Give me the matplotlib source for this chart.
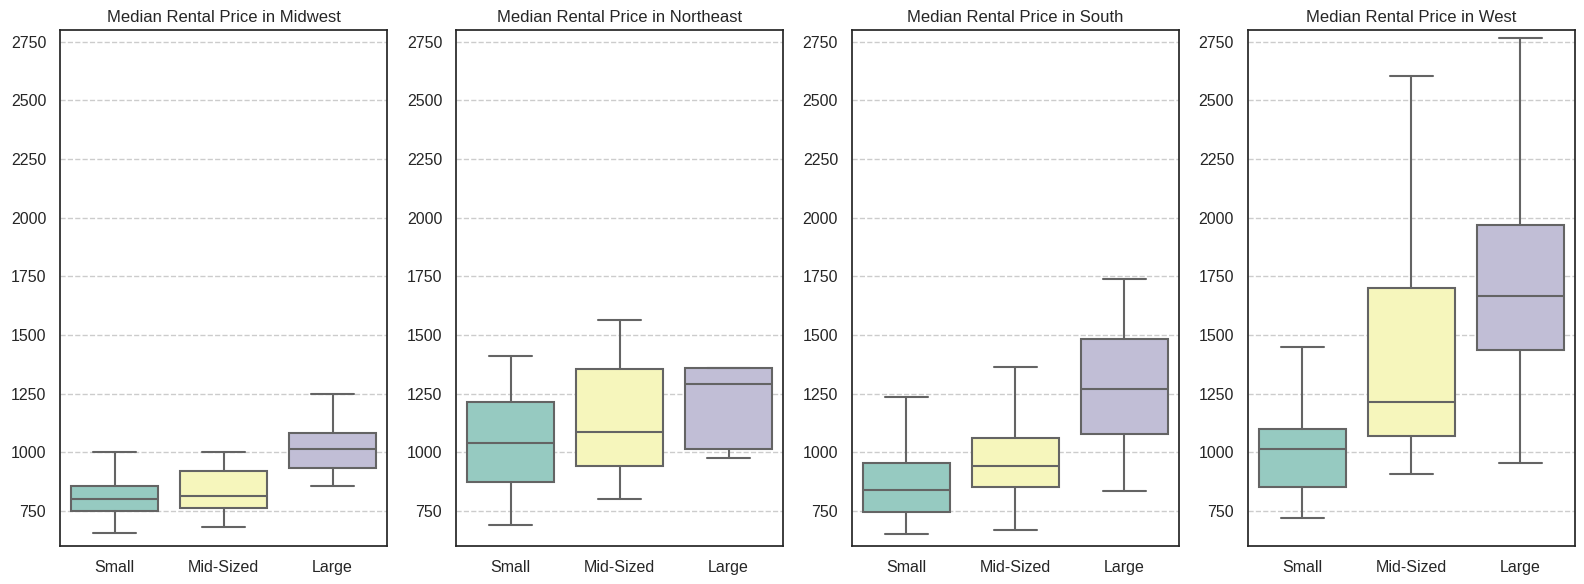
import matplotlib.pyplot as plt
import seaborn as sns

regions = ['Midwest', 'Northeast', 'South', 'West']
sizes = ['Small', 'Mid-Sized', 'Large']

# box stats, one value per size
whislo = {'Midwest': [657, 679, 854], 'Northeast': [689, 800, 974],
          'South': [649, 668, 834], 'West': [718, 909, 952]}
q1 = {'Midwest': [750, 760, 931], 'Northeast': [872, 941, 1012],
      'South': [747, 853, 1077], 'West': [850, 1068, 1434]}
med = {'Midwest': [800, 811, 1013], 'Northeast': [1038, 1085, 1289],
       'South': [838, 943, 1271], 'West': [1015, 1212, 1668]}
q3 = {'Midwest': [854, 919, 1083], 'Northeast': [1215, 1355, 1360],
      'South': [952, 1060, 1482], 'West': [1099, 1698, 1970]}
whishi = {'Midwest': [1000, 1000, 1246], 'Northeast': [1408, 1565, 1360],
          'South': [1237, 1363, 1737], 'West': [1450, 2602, 2765]}

sns.set_style('white')
plt.rcParams['font.family'] = ['Liberation Sans', 'DejaVu Sans']

colors = [sns.desaturate(c, 0.75) for c in sns.color_palette('Set3', 3)]
line_col = '#646464'

fig, axes = plt.subplots(1, 4, figsize=(15.84, 5.84), dpi=100)
fig.subplots_adjust(left=0.0379, right=0.9943, top=0.9486, bottom=0.0651, wspace=0.211)

for ax, region in zip(axes, regions):
    stats = []
    for i, s in enumerate(sizes):
        stats.append({'label': s, 'whislo': whislo[region][i], 'q1': q1[region][i],
                      'med': med[region][i], 'q3': q3[region][i],
                      'whishi': whishi[region][i], 'fliers': []})
    line = dict(color=line_col, linewidth=1.5)
    bp = ax.bxp(stats, positions=range(3), widths=0.8, patch_artist=True,
                showfliers=False, boxprops=dict(edgecolor=line_col, linewidth=1.5),
                medianprops=line, whiskerprops=line, capprops=line, capwidths=0.4)
    for patch, c in zip(bp['boxes'], colors):
        patch.set_facecolor(c)
    ax.set_xlim(-0.5, 2.5)
    ax.set_ylim(600, 2800)
    ax.set_yticks(range(750, 2751, 250))
    ax.grid(axis='y', linestyle='--', color='#cccccc', linewidth=1)
    ax.set_axisbelow(True)
    ax.set_title(f'Median Rental Price in {region}', fontsize=12)
    ax.tick_params(labelsize=11.5, pad=6.5)
    for sp in ax.spines.values():
        sp.set_linewidth(1.25)
        sp.set_color('#262626')

plt.savefig('out.png')
